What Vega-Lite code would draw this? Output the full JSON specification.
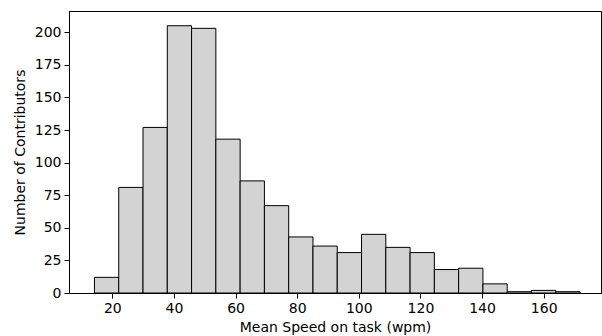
{
  "$schema": "https://vega.github.io/schema/vega-lite/v6.json",
  "autosize": "none",
  "width": 532,
  "height": 282,
  "padding": {"left": 69, "top": 11, "right": 1, "bottom": 43},
  "config": {
    "view": {"stroke": "#000", "strokeWidth": 1},
    "font": "DejaVu Sans",
    "axis": {
      "labelFont": "DejaVu Sans",
      "titleFont": "DejaVu Sans",
      "labelFontSize": 14,
      "titleFontSize": 14,
      "titleFontWeight": "normal",
      "labelColor": "#000",
      "titleColor": "#000",
      "tickColor": "#000",
      "domainColor": "#000",
      "tickSize": 5,
      "tickWidth": 1,
      "grid": false,
      "labelPadding": 3
    }
  },
  "data": {
    "values": [
      {"start": 14.2, "end": 22.08, "count": 12},
      {"start": 22.08, "end": 29.96, "count": 81},
      {"start": 29.96, "end": 37.84, "count": 127},
      {"start": 37.84, "end": 45.72, "count": 205},
      {"start": 45.72, "end": 53.6, "count": 203},
      {"start": 53.6, "end": 61.48, "count": 118},
      {"start": 61.48, "end": 69.36, "count": 86},
      {"start": 69.36, "end": 77.24, "count": 67},
      {"start": 77.24, "end": 85.12, "count": 43},
      {"start": 85.12, "end": 93.0, "count": 36},
      {"start": 93.0, "end": 100.88, "count": 31},
      {"start": 100.88, "end": 108.76, "count": 45},
      {"start": 108.76, "end": 116.64, "count": 35},
      {"start": 116.64, "end": 124.52, "count": 31},
      {"start": 124.52, "end": 132.4, "count": 18},
      {"start": 132.4, "end": 140.28, "count": 19},
      {"start": 140.28, "end": 148.16, "count": 7},
      {"start": 148.16, "end": 156.04, "count": 1},
      {"start": 156.04, "end": 163.92, "count": 2},
      {"start": 163.92, "end": 171.8, "count": 1}
    ]
  },
  "mark": {"type": "bar", "fill": "#d3d3d3", "stroke": "#000", "strokeWidth": 1},
  "encoding": {
    "x": {
      "field": "start",
      "type": "quantitative",
      "scale": {"domain": [5.94, 178.6], "nice": false, "zero": false},
      "axis": {"values": [20, 40, 60, 80, 100, 120, 140, 160], "title": "Mean Speed on task (wpm)", "titlePadding": 5}
    },
    "x2": {"field": "end"},
    "y": {
      "field": "count",
      "type": "quantitative",
      "scale": {"domain": [0, 216.3], "nice": false},
      "axis": {"values": [0, 25, 50, 75, 100, 125, 150, 175, 200], "title": "Number of Contributors", "titlePadding": 7}
    },
    "y2": {"datum": 0}
  }
}
